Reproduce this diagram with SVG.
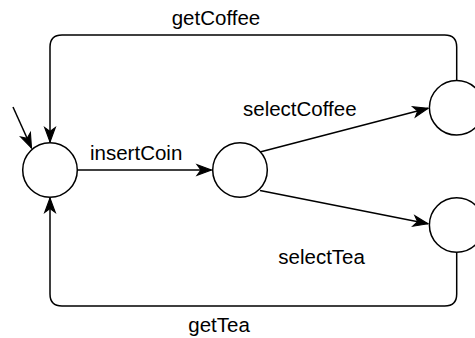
<svg xmlns="http://www.w3.org/2000/svg" width="475" height="338" viewBox="0 0 475 338">
<defs>
<style>
.st{fill:#fff;stroke:#000;stroke-width:1.5}
.ln{fill:none;stroke:#000;stroke-width:1.5;marker-end:url(#ah)}
text{font-family:"Liberation Sans",Arial,Helvetica,sans-serif;font-size:20.5px;fill:#000}
</style>
<marker id="ah" markerUnits="userSpaceOnUse" markerWidth="20" markerHeight="20" refX="0" refY="0" viewBox="-16 -8 18 16" orient="auto" overflow="visible">
<path d="M0,0 L-13,-4.8 L-9.5,0 L-13,4.8 Z" fill="#000" stroke="#000" stroke-width="1"/>
</marker>
</defs>
<rect width="475" height="338" fill="#fff"/>
<g id="connectors">
<path class="ln" d="M13,107 L31.5,148"/>
<path class="ln" d="M77.5,170 L211.5,170"/>
<path class="ln" d="M260,152 L428,108.3"/>
<path class="ln" d="M260,190.5 L428,223.8"/>
<path class="ln" d="M456.7,80.5 L456.7,47 Q456.7,35 444.7,35 L62,35 Q50,35 50,47 L50,142"/>
<path class="ln" d="M456.7,252.5 L456.7,294 Q456.7,306 444.7,306 L62,306 Q50,306 50,294 L50,198"/>
</g>
<g id="s0"><circle class="st" cx="50" cy="170" r="27.3"/></g>
<g id="s1"><circle class="st" cx="240" cy="170" r="27.3"/></g>
<g id="s2"><circle class="st" cx="456.7" cy="107.8" r="27.3"/></g>
<g id="s3"><circle class="st" cx="456.7" cy="225" r="27.3"/></g>
<g id="labels">
<text x="171.7" y="25">getCoffee</text>
<text x="90" y="160">insertCoin</text>
<text x="243" y="116">selectCoffee</text>
<text x="278.3" y="264.3">selectTea</text>
<text x="188.3" y="332.3">getTea</text>
</g>
</svg>
